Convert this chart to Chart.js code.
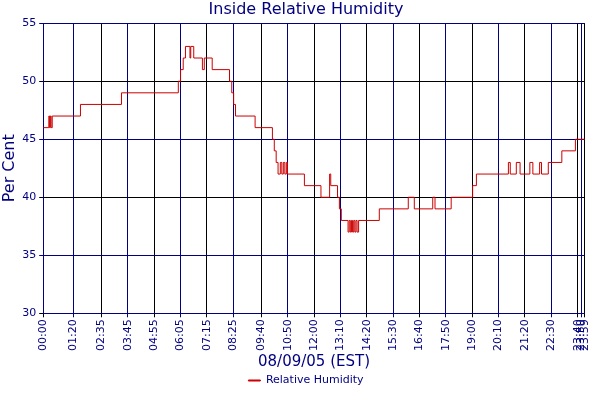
<!DOCTYPE html>
<html><head><meta charset="utf-8">
<script src="https://cdn.jsdelivr.net/npm/chart.js@4"></script>
<style>html,body{margin:0;background:#fff}#w{width:600px;height:400px}</style>
</head><body><div id="w"><canvas id="c"></canvas></div>
<script>
const tickLabels = ["00:00","01:20","02:35","03:45","04:55","06:05","07:15","08:25","09:40","10:50","12:00","13:10","14:20","15:30","16:40","17:50","19:00","20:10","21:20","22:30","23:40","23:50","23:59"];
const times = [0,15,17,19,21,24,99,208,359,365,372,378,390,392,400,423,428,449,495,501,506,511,563,609,614,619,624,630,634,638,642,646,649,694,738,761,764,782,787,792,810,813,816,819,822,825,828,831,834,838,893,970,986,1035,1041,1084,1141,1151,1236,1241,1257,1267,1293,1301,1319,1324,1342,1378,1414,1439];
const humidity = [46,47,46,47,46,47,48,49,50,51,52,53,52,53,52,51,52,51,50,49,48,47,46,45,44,43,42,43,42,43,42,43,42,41,40,42,41,40,39,38,37,38,37,38,37,38,37,38,37,38,39,40,39,40,39,40,41,42,43,42,43,42,43,42,43,42,43,44,45,45];
const toMin = s => { const [h,m] = s.split(':').map(Number); return h*60+m; };
const tickVals = tickLabels.map(toMin);
const navy = '#000080';
const font = 'DejaVu Sans';
new Chart(document.getElementById('c'), {
  type: 'line',
  data: { datasets: [{
    label: 'Relative Humidity',
    data: times.map((t,i)=>({x:t,y:humidity[i]})),
    borderColor: '#cc0000', backgroundColor: '#cc0000', borderWidth: 1,
    stepped: true, pointRadius: 0, fill: false
  }]},
  options: {
    responsive: true, maintainAspectRatio: false, animation: false,
    layout: { padding: { right: -12, top: 0, left: 0, bottom: 4 } },
    plugins: {
      title: { display: true, text: 'Inside Relative Humidity', color: navy, font: { family: font, size: 16, weight: 'normal' }, padding: { top: 0, bottom: 4 } },
      legend: { position: 'bottom', labels: { color: navy, font: { family: font, size: 11 }, boxWidth: 12, boxHeight: 1, padding: 4 } },
      tooltip: { enabled: false }
    },
    scales: {
      x: {
        type: 'linear', min: 0, max: 1439,
        afterBuildTicks: ax => { ax.ticks = tickVals.map(v => ({ value: v })); },
        ticks: { color: navy, font: { family: font, size: 11 }, maxRotation: 90, minRotation: 90, autoSkip: false, padding: 2,
          callback: (v, i) => tickLabels[i] },
        grid: { color: c => (c.index % 2 === 0 ? '#000000' : navy), lineWidth: 1, tickLength: 4 },
        border: { color: navy },
        title: { display: true, text: '08/09/05 (EST)', color: navy, font: { family: font, size: 15 }, padding: 0 }
      },
      y: {
        min: 30, max: 55,
        ticks: { stepSize: 5, color: navy, font: { family: font, size: 11 } },
        grid: { color: c => (c.tick && c.tick.value % 10 === 0 ? '#000000' : navy), lineWidth: 1, tickLength: 4 },
        border: { color: navy },
        title: { display: true, text: 'Per Cent', color: navy, font: { family: font, size: 16 }, padding: 0 }
      }
    }
  }
});
</script></body></html>
